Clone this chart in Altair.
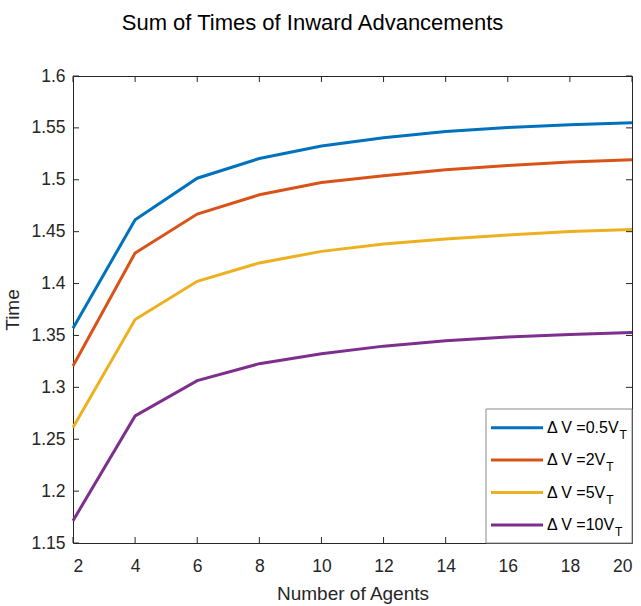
import altair as alt
import pandas as pd

# ---- data -----------------------------------------------------------------
agents = [2, 4, 6, 8, 10, 12, 14, 16, 18, 20]
dv_values = ["0.5", "2", "5", "10"]
time_dv_05 = [1.357, 1.4615, 1.5015, 1.5205, 1.5325, 1.5405, 1.5465, 1.5503, 1.553, 1.555]
time_dv_2 = [1.3205, 1.4295, 1.467, 1.4855, 1.4973, 1.5038, 1.5096, 1.5138, 1.5172, 1.5192]
time_dv_5 = [1.2612, 1.3654, 1.4022, 1.4199, 1.431, 1.4382, 1.443, 1.4468, 1.4502, 1.4522]
time_dv_10 = [1.1715, 1.2724, 1.3065, 1.3228, 1.3324, 1.3397, 1.3449, 1.3484, 1.351, 1.3529]
y_ticks = [1.15, 1.2, 1.25, 1.3, 1.35, 1.4, 1.45, 1.5, 1.55, 1.6]
colors = ["#0072BD", "#D95319", "#EDB120", "#7E2F8E"]

series_times = [time_dv_05, time_dv_2, time_dv_5, time_dv_10]
rows = []
for dv, times in zip(dv_values, series_times):
    for a, t in zip(agents, times):
        rows.append({"series": dv, "agents": a, "time": t})
df = pd.DataFrame(rows)

# ---- styling ----------------------------------------------------------------
FONT = "Liberation Sans, Arial, Helvetica, sans-serif"
AX = "#262626"
W, H = 559, 467
TICK = 6

x_scale = alt.Scale(domain=[2, 20], nice=False, zero=False)
y_scale = alt.Scale(domain=[1.15, 1.6], nice=False, zero=False)
color_scale = alt.Scale(domain=dv_values, range=colors)

x_axis = alt.Axis(orient="bottom", values=agents, title="Number of Agents", ticks=False,
                  domain=False, grid=False, labelPadding=14, titlePadding=10,
                  labelFont=FONT, labelFontSize=17.5, labelColor=AX,
                  titleFont=FONT, titleFontSize=19, titleColor=AX, titleFontWeight="normal")
y_axis = alt.Axis(orient="left", values=y_ticks, format=".2~f", title="Time", ticks=False,
                  domain=False, grid=False, labelPadding=8, titlePadding=8,
                  labelFont=FONT, labelFontSize=17.5, labelColor=AX,
                  titleFont=FONT, titleFontSize=19, titleColor=AX, titleFontWeight="normal")

lines = alt.Chart(df).mark_line(strokeWidth=3).encode(
    x=alt.X("agents:Q", scale=x_scale, axis=x_axis),
    y=alt.Y("time:Q", scale=y_scale, axis=y_axis),
    color=alt.Color("series:N", scale=color_scale, legend=None),
)

# inward tick marks on all four sides of the box
xt = pd.DataFrame({"agents": agents})
yt = pd.DataFrame({"time": y_ticks})
tx = alt.X("agents:Q", scale=x_scale, axis=x_axis)
ty = alt.Y("time:Q", scale=y_scale, axis=y_axis)
tick_bottom = alt.Chart(xt).mark_rule(color=AX).encode(x=tx, y=alt.value(H), y2=alt.value(H - TICK))
tick_top = alt.Chart(xt).mark_rule(color=AX).encode(x=tx, y=alt.value(0), y2=alt.value(TICK))
tick_left = alt.Chart(yt).mark_rule(color=AX).encode(y=ty, x=alt.value(0), x2=alt.value(TICK))
tick_right = alt.Chart(yt).mark_rule(color=AX).encode(y=ty, x=alt.value(W), x2=alt.value(W - TICK))

# ---- legend box (lower right) ----------------------------------------------
LEG_X0, LEG_Y0 = 413, 333
LINE_X0, LINE_X1 = 418, 470
TEXT_X = 474
ROW0, ROW_STEP = 351.7, 32.4
LEG_FS, SUB_FS = 16, 12

# Liberation Sans advance widths (1/1000 em) for the label glyphs
glyph_w = {"Δ": 668, " ": 278, "V": 667, "=": 584, ".": 278}


def text_width(s, size):
    return sum(glyph_w.get(c, 556) for c in s) / 1000 * size


labels = [f"Δ V ={v}V" for v in dv_values]
legend_df = pd.DataFrame({
    "series": dv_values,
    "label": labels,
    "row": list(range(len(dv_values))),
    "sub_x": [TEXT_X + text_width(s, LEG_FS) for s in labels],
})

box = alt.Chart(pd.DataFrame({"k": [0]})).mark_rect(
    fill="white", stroke="#8a8a8a", strokeWidth=1
).encode(x=alt.value(LEG_X0), x2=alt.value(W), y=alt.value(LEG_Y0), y2=alt.value(H))

leg_base = alt.Chart(legend_df).transform_calculate(
    ly=f"{ROW0} + datum.row * {ROW_STEP}",
    ly_sub=f"{ROW0} + datum.row * {ROW_STEP} + 7",
)
leg_lines = leg_base.mark_rule(strokeWidth=3).encode(
    x=alt.value(LINE_X0), x2=alt.value(LINE_X1),
    y=alt.Y("ly:Q", scale=None),
    color=alt.Color("series:N", scale=color_scale, legend=None),
)
leg_text = leg_base.mark_text(
    align="left", baseline="middle", font=FONT, fontSize=LEG_FS, color="black"
).encode(x=alt.value(TEXT_X), y=alt.Y("ly:Q", scale=None), text="label:N")
leg_sub = leg_base.mark_text(
    align="left", baseline="middle", font=FONT, fontSize=SUB_FS, color="black"
).encode(x=alt.X("sub_x:Q", scale=None),
         y=alt.Y("ly_sub:Q", scale=None), text=alt.value("T"))

chart = alt.layer(
    lines, tick_bottom, tick_top, tick_left, tick_right,
    box, leg_lines, leg_text, leg_sub,
).properties(
    width=W, height=H,
    background="white",
    title=alt.TitleParams(
        "Sum of Times of Inward Advancements", font=FONT, fontSize=22,
        fontWeight="normal", color="black", anchor="middle", frame="group",
        dx=-40, offset=15, baseline="alphabetic",
    ),
    autosize=alt.AutoSizeParams(type="none"),
    padding={"left": 73, "top": 76, "right": 9, "bottom": 63},
).configure_view(
    stroke=AX, strokeWidth=1
)

chart.save("out.html", embed_options={"renderer": "svg", "actions": False})
